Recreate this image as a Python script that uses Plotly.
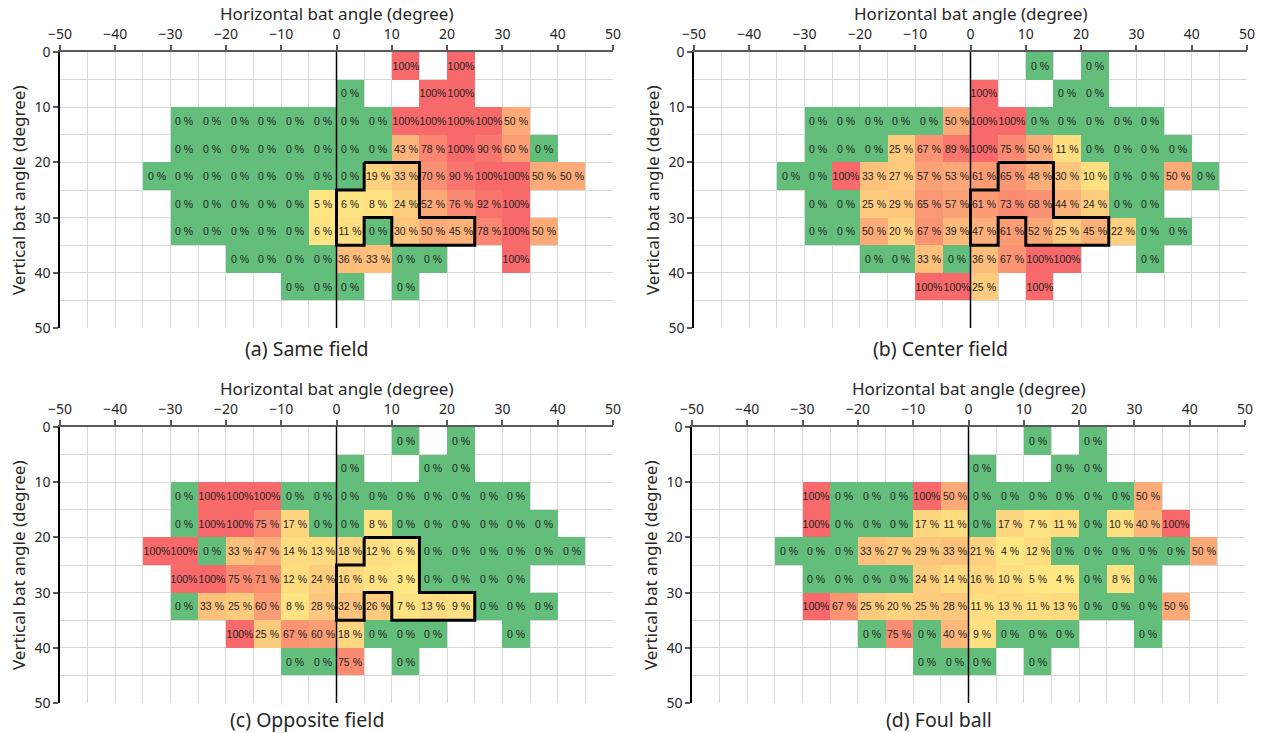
import plotly.graph_objects as go

# ---------------- data ----------------
X_LEFT = list(range(-50, 50, 5))      # left edges of 5-degree columns
Y_TOP = list(range(0, 50, 5))         # top edges of 5-degree rows
X_TICKS = list(range(-50, 51, 10))
Y_TICKS = list(range(0, 51, 10))

# each entry: (row top edge, first column left edge, values...)  None = empty cell
same_field = [
    (0, 10, [100, None, 100]),
    (5, 0, [0, None, None, 100, 100]),
    (10, -30, [0, 0, 0, 0, 0, 0, 0, 0, 100, 100, 100, 100, 50]),
    (15, -30, [0, 0, 0, 0, 0, 0, 0, 0, 43, 78, 100, 90, 60, 0]),
    (20, -35, [0, 0, 0, 0, 0, 0, 0, 0, 19, 33, 70, 90, 100, 100, 50, 50]),
    (25, -30, [0, 0, 0, 0, 0, 5, 6, 8, 24, 52, 76, 92, 100]),
    (30, -30, [0, 0, 0, 0, 0, 6, 11, 0, 30, 50, 45, 78, 100, 50]),
    (35, -20, [0, 0, 0, 0, 36, 33, 0, 0, None, None, 100]),
    (40, -10, [0, 0, 0, None, 0]),
]
center_field = [
    (0, 10, [0, None, 0]),
    (5, 0, [100, None, None, 0, 0]),
    (10, -30, [0, 0, 0, 0, 0, 50, 100, 100, 0, 0, 0, 0, 0]),
    (15, -30, [0, 0, 0, 25, 67, 89, 100, 75, 50, 11, 0, 0, 0, 0]),
    (20, -35, [0, 0, 100, 33, 27, 57, 53, 61, 65, 48, 30, 10, 0, 0, 50, 0]),
    (25, -30, [0, 0, 25, 29, 65, 57, 61, 73, 68, 44, 24, 0, 0]),
    (30, -30, [0, 0, 50, 20, 67, 39, 47, 61, 52, 25, 45, 22, 0, 0]),
    (35, -20, [0, 0, 33, 0, 36, 67, 100, 100, None, None, 0]),
    (40, -10, [100, 100, 25, None, 100]),
]
opposite_field = [
    (0, 10, [0, None, 0]),
    (5, 0, [0, None, None, 0, 0]),
    (10, -30, [0, 100, 100, 100, 0, 0, 0, 0, 0, 0, 0, 0, 0]),
    (15, -30, [0, 100, 100, 75, 17, 0, 0, 8, 0, 0, 0, 0, 0, 0]),
    (20, -35, [100, 100, 0, 33, 47, 14, 13, 18, 12, 6, 0, 0, 0, 0, 0, 0]),
    (25, -30, [100, 100, 75, 71, 12, 24, 16, 8, 3, 0, 0, 0, 0]),
    (30, -30, [0, 33, 25, 60, 8, 28, 32, 26, 7, 13, 9, 0, 0, 0]),
    (35, -20, [100, 25, 67, 60, 18, 0, 0, 0, None, None, 0]),
    (40, -10, [0, 0, 75, None, 0]),
]
foul_ball = [
    (0, 10, [0, None, 0]),
    (5, 0, [0, None, None, 0, 0]),
    (10, -30, [100, 0, 0, 0, 100, 50, 0, 0, 0, 0, 0, 0, 50]),
    (15, -30, [100, 0, 0, 0, 17, 11, 0, 17, 7, 11, 0, 10, 40, 100]),
    (20, -35, [0, 0, 0, 33, 27, 29, 33, 21, 4, 12, 0, 0, 0, 0, 0, 50]),
    (25, -30, [0, 0, 0, 0, 24, 14, 16, 10, 5, 4, 0, 8, 0]),
    (30, -30, [100, 67, 25, 20, 25, 28, 11, 13, 11, 13, 0, 0, 0, 50]),
    (35, -20, [0, 75, 0, 40, 9, 0, 0, 0, None, None, 0]),
    (40, -10, [0, 0, 0, None, 0]),
]

# highlighted region outline (corner points, degrees)
OUTLINE_X = [5, 15, 15, 25, 25, 10, 10, 5, 5, 0, 0, 5, 5]
OUTLINE_Y = [20, 20, 30, 30, 35, 35, 30, 30, 35, 35, 25, 25, 20]

CAPTIONS = ["(a) Same field", "(b) Center field", "(c) Opposite field", "(d) Foul ball"]
PANELS = [same_field, center_field, opposite_field, foul_ball]
HAS_OUTLINE = [True, True, True, False]

# ---------------- layout geometry (pixels of the 1263x733 window) ----------------
W, H = 1263, 733
# (x0, x1, ytop, ybottom) of each plot area
BOXES = [(60, 613, 52, 328), (694, 1247, 52, 328), (60, 613, 427, 703), (692, 1245, 427, 703)]
CAPTION_Y = [348, 348, 719, 719]

GREEN, YELLOW, RED = "#63BE7B", "#FFEB84", "#F8696B"
COLORSCALE = [[0, GREEN], [0.01, GREEN], [0.01, YELLOW], [1, RED]]
FONT = "Noto Sans"
TXT = "#262626"


def px(x):
    return x / W


def py(y):
    return 1 - y / H


def build(rows):
    z = [[None] * len(X_LEFT) for _ in Y_TOP]
    t = [[""] * len(X_LEFT) for _ in Y_TOP]
    for ry, sx, vals in rows:
        r = Y_TOP.index(ry)
        c0 = X_LEFT.index(sx)
        for i, v in enumerate(vals):
            if v is None:
                continue
            z[r][c0 + i] = v
            t[r][c0 + i] = "100%" if v >= 100 else f"{v} %"
    return z, t


fig = go.Figure()
xc = [x + 2.5 for x in X_LEFT]
yc = [y + 2.5 for y in Y_TOP]

for k, rows in enumerate(PANELS):
    n = "" if k == 0 else str(k + 1)
    z, t = build(rows)
    fig.add_trace(go.Heatmap(
        x=xc, y=yc, z=z, text=t, texttemplate="%{text}",
        textfont=dict(family="Liberation Sans", size=10.5, color="#222222"),
        colorscale=COLORSCALE, zmin=0, zmax=100, showscale=False,
        hoverinfo="skip", xaxis="x" + n, yaxis="y" + n,
    ))
    if HAS_OUTLINE[k]:
        fig.add_trace(go.Scatter(
            x=OUTLINE_X, y=OUTLINE_Y, mode="lines",
            line=dict(color="black", width=3), hoverinfo="skip",
            showlegend=False, xaxis="x" + n, yaxis="y" + n,
        ))

    x0, x1, yt, yb = BOXES[k]
    grid = "#D9D9D9"
    fig.update_layout(**{
        "xaxis" + n: dict(
            domain=[px(x0), px(x1)], range=[-50, 50], side="top", anchor="y" + n,
            tickvals=X_TICKS, showgrid=True, gridcolor=grid, gridwidth=1,
            minor=dict(dtick=5, tick0=0, showgrid=True, gridcolor=grid, gridwidth=1),
            showline=True, linecolor="#595959", linewidth=2,
            ticks="outside", ticklen=5, tickcolor="#595959", tickwidth=1.5,
            zeroline=False, tickfont=dict(family=FONT, size=14, color=TXT),
            fixedrange=True, automargin=False, ticklabeloverflow="allow",
        ),
        "yaxis" + n: dict(
            domain=[py(yb), py(yt)], range=[50, 0], anchor="x" + n,
            tickvals=Y_TICKS, showgrid=True, gridcolor=grid, gridwidth=1,
            minor=dict(dtick=5, tick0=0, showgrid=True, gridcolor=grid, gridwidth=1),
            showline=True, linecolor="black", linewidth=1.5,
            ticks="outside", ticklen=5, tickcolor="#595959", tickwidth=1.5,
            zeroline=False, tickfont=dict(family=FONT, size=14, color=TXT),
            fixedrange=True, automargin=False, ticklabeloverflow="allow",
        ),
    })
    # vertical line at x = 0
    fig.add_shape(type="line", xref="x" + n, yref="y" + n, x0=0, x1=0, y0=0, y1=50,
                  line=dict(color="black", width=1.5), layer="above")
    # titles
    cx = (x0 + x1) / 2
    fig.add_annotation(text="Horizontal bat angle (degree)", xref="paper", yref="paper",
                       x=px(cx), y=py(yt - 38.5), showarrow=False,
                       xanchor="center", yanchor="middle",
                       font=dict(family=FONT, size=17, color=TXT))
    fig.add_annotation(text="Vertical bat angle (degree)", xref="paper", yref="paper",
                       x=px(x0 - 42), y=py((yt + yb) / 2), showarrow=False,
                       textangle=-90, xanchor="center", yanchor="middle",
                       font=dict(family=FONT, size=17, color=TXT))
    fig.add_annotation(text=CAPTIONS[k], xref="paper", yref="paper",
                       x=px(cx - 30), y=py(CAPTION_Y[k]), showarrow=False,
                       xanchor="center", yanchor="middle",
                       font=dict(family=FONT, size=19.5, color=TXT))

fig.update_layout(
    width=W, height=H, margin=dict(l=0, r=0, t=0, b=0),
    paper_bgcolor="white", plot_bgcolor="white", showlegend=False,
)

fig.write_html("out.html", config={"displayModeBar": False},
               post_script="document.body.style.margin='0';")
